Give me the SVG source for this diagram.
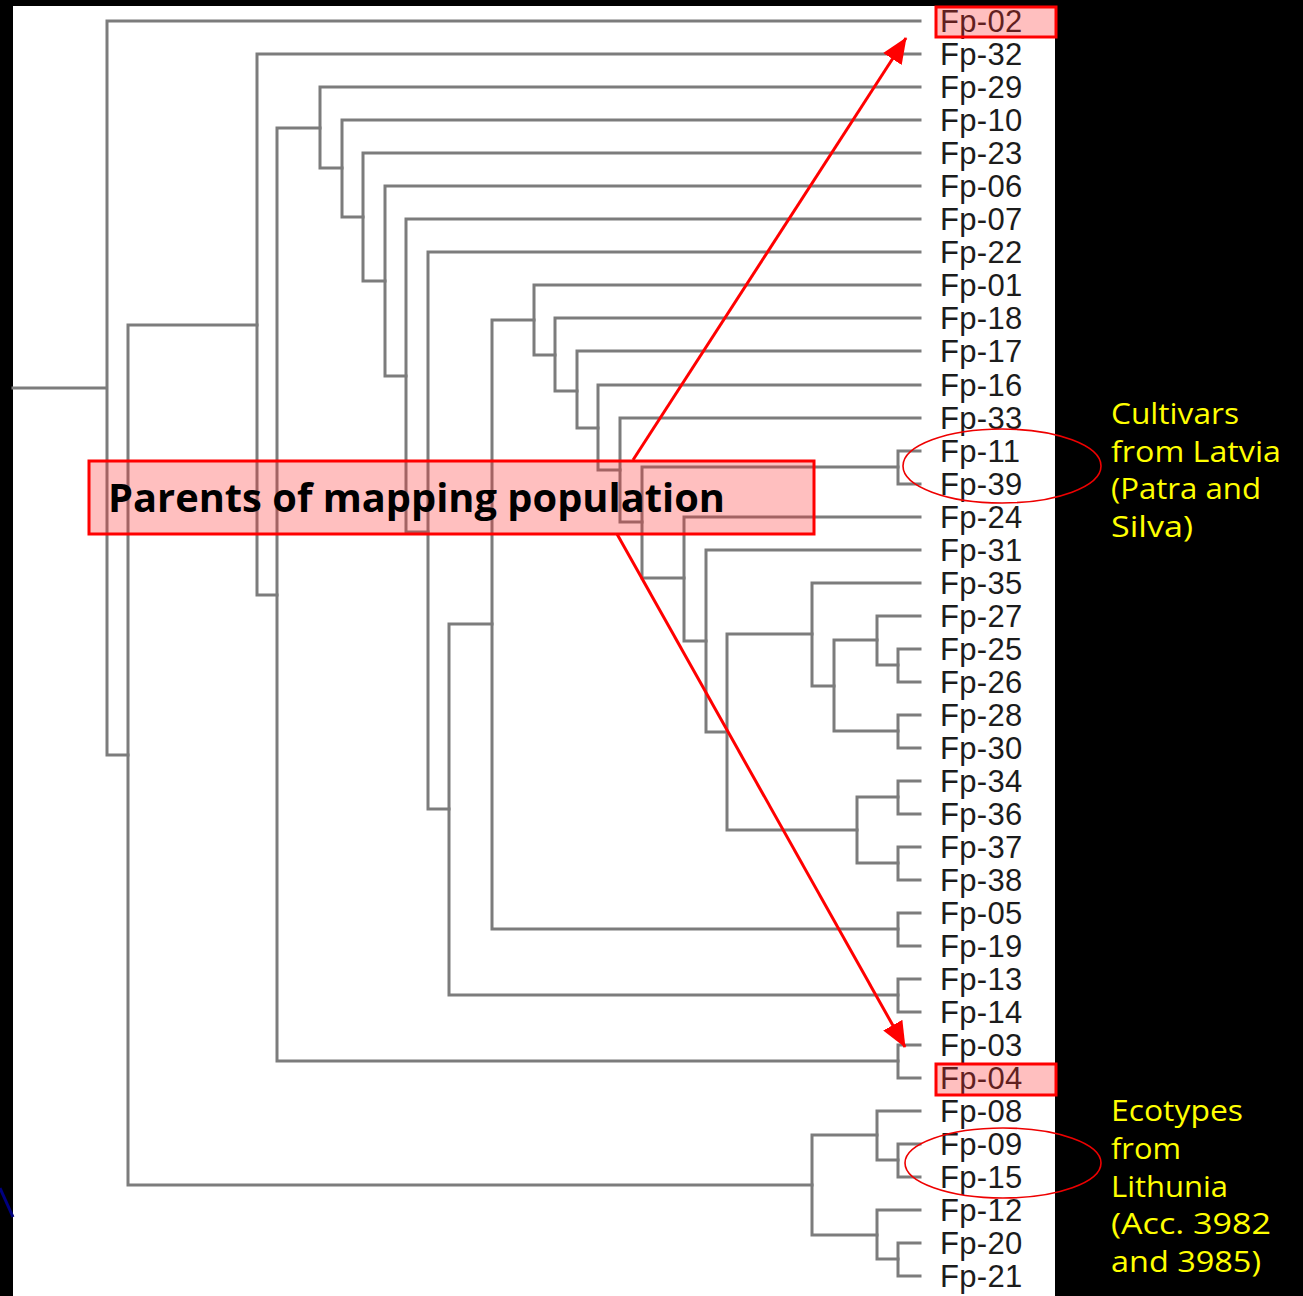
<svg xmlns="http://www.w3.org/2000/svg" width="1303" height="1296" viewBox="0 0 1303 1296">
  <style>
    .tree { fill: none; stroke: #7c7c7c; stroke-width: 3; stroke-linecap: square; }
    .lbl { font-family: "Liberation Sans", Arial, sans-serif; font-size: 31px; fill: #1c1c1c; letter-spacing: 0.3px; }
    .hl { fill: #ff2a2a; fill-opacity: 0.3; stroke: #ff0000; stroke-width: 3; }
    .ann { fill: none; stroke: #ff0000; stroke-width: 3; }
    .ell { fill: none; stroke: #ee0000; stroke-width: 1.6; }
    .note { font-family: "Comic Sans MS", "Open Sans", sans-serif; font-size: 30px; fill: #ffff00; }
    .title { font-family: "Comic Sans MS", "Open Sans", sans-serif; font-size: 40px; font-weight: bold; fill: #000; }
  </style>
  <defs>
    <marker id="ah" markerUnits="userSpaceOnUse" viewBox="0 0 26 22" refX="25" refY="11" markerWidth="26" markerHeight="22" orient="auto">
      <path d="M0,0 L26,11 L0,22 z" fill="#ff0000"/>
    </marker>
  </defs>
  <rect x="0" y="0" width="1303" height="1296" fill="#000"/>
  <rect x="13" y="6" width="1042" height="1290" fill="#fff"/>
  <line x1="0" y1="1188" x2="13" y2="1217" stroke="#000080" stroke-width="3"/>

  <g id="connectors" class="tree">
    <path d="M13 388 H107 M107 21 V755 M107 21 H920 M107 755 H128"/>
    <path d="M128 325 V1185 M128 325 H257 M128 1185 H812"/>
    <path d="M257 54 V595 M257 54 H920 M257 595 H277"/>
    <path d="M277 128 V1061 M277 128 H320 M277 1061 H898"/>
    <path d="M320 87 V168 M320 87 H920 M320 168 H342"/>
    <path d="M342 120 V217 M342 120 H920 M342 217 H363"/>
    <path d="M363 153 V281 M363 153 H920 M363 281 H385"/>
    <path d="M385 186 V376 M385 186 H920 M385 376 H406"/>
    <path d="M406 219 V532 M406 219 H920 M406 532 H428"/>
    <path d="M428 252 V809 M428 252 H920 M428 809 H449"/>
    <path d="M449 624 V995 M449 624 H492 M449 995 H898"/>
    <path d="M492 320 V929 M492 320 H534 M492 929 H898"/>
    <path d="M534 285 V355 M534 285 H920 M534 355 H555"/>
    <path d="M555 318 V391 M555 318 H920 M555 391 H577"/>
    <path d="M577 351 V428 M577 351 H920 M577 428 H598"/>
    <path d="M598 385 V470 M598 385 H920 M598 470 H620"/>
    <path d="M620 418 V522 M620 418 H920 M620 522 H642"/>
    <path d="M642 467 V578 M642 467 H898 M642 578 H684"/>
    <path d="M684 517 V641 M684 517 H920 M684 641 H706"/>
    <path d="M706 550 V732 M706 550 H920 M706 732 H727"/>
    <path d="M727 634 V830 M727 634 H812 M727 830 H857"/>
    <path d="M812 583 V686 M812 583 H920 M812 686 H834"/>
    <path d="M834 640 V731 M834 640 H877 M834 731 H898"/>
    <path d="M877 616 V665 M877 616 H920 M877 665 H898"/>
    <path d="M857 797 V863 M857 797 H898 M857 863 H898"/>
    <path d="M812 1135 V1235 M812 1135 H877 M812 1235 H877"/>
    <path d="M877 1111 V1160 M877 1111 H920 M877 1160 H898"/>
    <path d="M877 1210 V1259 M877 1210 H920 M877 1259 H898"/>
    <path d="M898 451 V484 M898 451 H920 M898 484 H920"/>
    <path d="M898 649 V682 M898 649 H920 M898 682 H920"/>
    <path d="M898 715 V748 M898 715 H920 M898 748 H920"/>
    <path d="M898 781 V814 M898 781 H920 M898 814 H920"/>
    <path d="M898 847 V880 M898 847 H920 M898 880 H920"/>
    <path d="M898 913 V946 M898 913 H920 M898 946 H920"/>
    <path d="M898 979 V1012 M898 979 H920 M898 1012 H920"/>
    <path d="M898 1045 V1078 M898 1045 H920 M898 1078 H920"/>
    <path d="M898 1144 V1177 M898 1144 H920 M898 1177 H920"/>
    <path d="M898 1243 V1276 M898 1243 H920 M898 1276 H920"/>
  </g>

  <g id="leaves" class="lbl">
    <g id="fp02"><text x="940" y="32">Fp-02</text></g>
    <g id="fp32"><text x="940" y="65">Fp-32</text></g>
    <g id="fp29"><text x="940" y="98">Fp-29</text></g>
    <g id="fp10"><text x="940" y="131">Fp-10</text></g>
    <g id="fp23"><text x="940" y="164">Fp-23</text></g>
    <g id="fp06"><text x="940" y="197">Fp-06</text></g>
    <g id="fp07"><text x="940" y="230">Fp-07</text></g>
    <g id="fp22"><text x="940" y="263">Fp-22</text></g>
    <g id="fp01"><text x="940" y="296">Fp-01</text></g>
    <g id="fp18"><text x="940" y="329">Fp-18</text></g>
    <g id="fp17"><text x="940" y="362">Fp-17</text></g>
    <g id="fp16"><text x="940" y="396">Fp-16</text></g>
    <g id="fp33"><text x="940" y="429">Fp-33</text></g>
    <g id="fp11"><text x="940" y="462">Fp-11</text></g>
    <g id="fp39"><text x="940" y="495">Fp-39</text></g>
    <g id="fp24"><text x="940" y="528">Fp-24</text></g>
    <g id="fp31"><text x="940" y="561">Fp-31</text></g>
    <g id="fp35"><text x="940" y="594">Fp-35</text></g>
    <g id="fp27"><text x="940" y="627">Fp-27</text></g>
    <g id="fp25"><text x="940" y="660">Fp-25</text></g>
    <g id="fp26"><text x="940" y="693">Fp-26</text></g>
    <g id="fp28"><text x="940" y="726">Fp-28</text></g>
    <g id="fp30"><text x="940" y="759">Fp-30</text></g>
    <g id="fp34"><text x="940" y="792">Fp-34</text></g>
    <g id="fp36"><text x="940" y="825">Fp-36</text></g>
    <g id="fp37"><text x="940" y="858">Fp-37</text></g>
    <g id="fp38"><text x="940" y="891">Fp-38</text></g>
    <g id="fp05"><text x="940" y="924">Fp-05</text></g>
    <g id="fp19"><text x="940" y="957">Fp-19</text></g>
    <g id="fp13"><text x="940" y="990">Fp-13</text></g>
    <g id="fp14"><text x="940" y="1023">Fp-14</text></g>
    <g id="fp03"><text x="940" y="1056">Fp-03</text></g>
    <g id="fp04"><text x="940" y="1089">Fp-04</text></g>
    <g id="fp08"><text x="940" y="1122">Fp-08</text></g>
    <g id="fp09"><text x="940" y="1155">Fp-09</text></g>
    <g id="fp15"><text x="940" y="1188">Fp-15</text></g>
    <g id="fp12"><text x="940" y="1221">Fp-12</text></g>
    <g id="fp20"><text x="940" y="1254">Fp-20</text></g>
    <g id="fp21"><text x="940" y="1287">Fp-21</text></g>
  </g>

  <g id="highlight-fp02"><rect class="hl" x="936" y="7" width="120" height="30"/></g>
  <g id="highlight-fp04"><rect class="hl" x="936" y="1064" width="120" height="31"/></g>

  <g id="ellipse-latvia"><ellipse class="ell" cx="1002" cy="466" rx="99" ry="37"/></g>
  <g id="ellipse-lithuania"><ellipse class="ell" cx="1003" cy="1163" rx="98" ry="35"/></g>

  <g id="arrows" class="ann">
    <line x1="633" y1="460" x2="906" y2="38" marker-end="url(#ah)"/>
    <line x1="617" y1="534" x2="905" y2="1047" marker-end="url(#ah)"/>
  </g>

  <g id="parents-label">
    <rect class="hl" x="89" y="461" width="725" height="73"/>
    <text class="title" x="108" y="512" textLength="617" lengthAdjust="spacingAndGlyphs">Parents of mapping population</text>
  </g>

  <g id="note-latvia" class="note">
    <text x="1111" y="424" textLength="128" lengthAdjust="spacingAndGlyphs">Cultivars</text>
    <text x="1111" y="462" textLength="170" lengthAdjust="spacingAndGlyphs">from Latvia</text>
    <text x="1111" y="499" textLength="150" lengthAdjust="spacingAndGlyphs">(Patra and</text>
    <text x="1111" y="537" textLength="82" lengthAdjust="spacingAndGlyphs">Silva)</text>
  </g>
  <g id="note-lithuania" class="note">
    <text x="1111" y="1121" textLength="132" lengthAdjust="spacingAndGlyphs">Ecotypes</text>
    <text x="1111" y="1159" textLength="70" lengthAdjust="spacingAndGlyphs">from</text>
    <text x="1111" y="1197" textLength="117" lengthAdjust="spacingAndGlyphs">Lithunia</text>
    <text x="1111" y="1234" textLength="160" lengthAdjust="spacingAndGlyphs">(Acc. 3982</text>
    <text x="1111" y="1272" textLength="150" lengthAdjust="spacingAndGlyphs">and 3985)</text>
  </g>
</svg>
